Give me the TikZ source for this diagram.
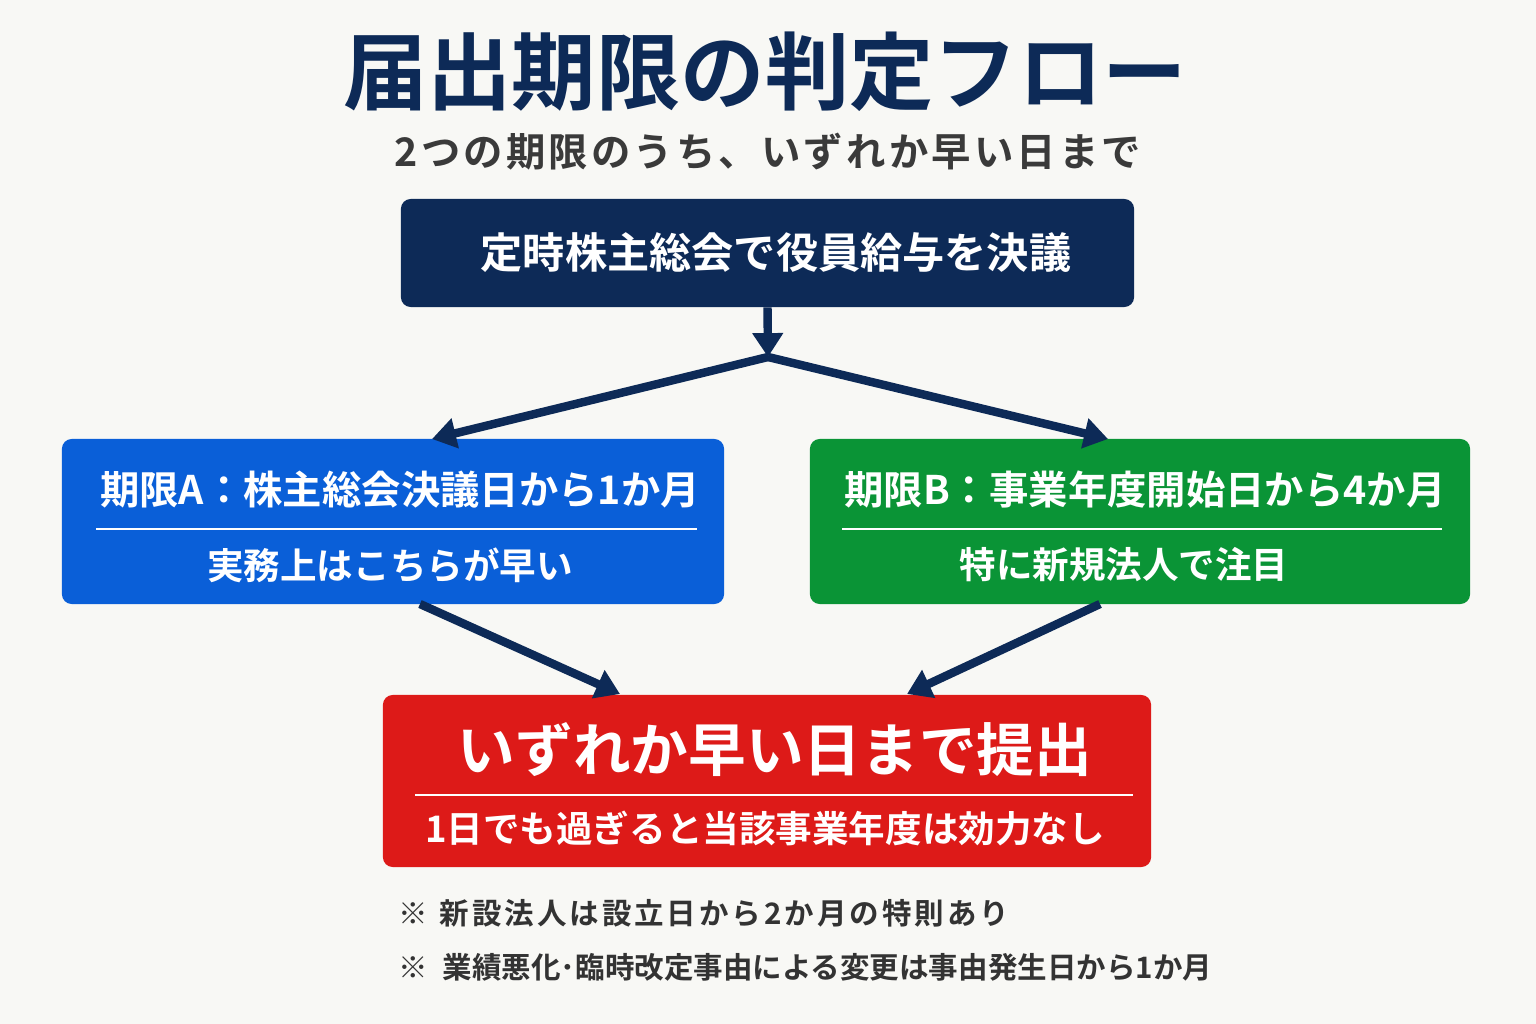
\documentclass[tikz,border=0pt]{standalone}
\usepackage{fontspec}
\setmainfont{Noto Sans CJK JP}[BoldFont={Noto Sans CJK JP Bold}]
\usetikzlibrary{arrows.meta}
\definecolor{bg}{HTML}{F8F8F5}
\definecolor{navy}{HTML}{0D2A57}
\definecolor{bluebox}{HTML}{0A5FD8}
\definecolor{greenbox}{HTML}{0A9436}
\definecolor{redbox}{HTML}{DD1A18}
\definecolor{subgray}{HTML}{3A3A3A}
\definecolor{notegray}{HTML}{333333}
\begin{document}
\begin{tikzpicture}[x=0.025cm,y=-0.025cm,
  txt/.style={font=\fontsize{#1pt}{#1pt}\selectfont\bfseries, inner sep=0pt},
  box/.style={rectangle, rounded corners=7pt, inner sep=0pt},
  divider/.style={white, line width=1.8pt},
  arr/.style={draw=navy, line width=6pt, -{Triangle[length=17pt,width=21pt]}},
  lnk/.style={draw=navy, line width=6pt}]
\fill[bg] (0,0) rectangle (1536,1024);
% title
\node[txt=60, text=navy] (title) at (765,72) {届出期限の判定フロー};
\node[txt=28, text=subgray] (subtitle) at (768,152) {\addfontfeature{LetterSpace=8}2つの期限のうち、いずれか早い日まで};
% boxes
\node[box, fill=navy, minimum width=18.325cm, minimum height=2.7cm] (top) at (767.5,253) {};
\node[txt=30, text=white] (toptxt) at (776,253) {定時株主総会で役員給与を決議};
\node[box, fill=bluebox, minimum width=16.55cm, minimum height=4.125cm] (blue) at (393,521.5) {};
\node[txt=28, text=white] (bluet) at (400,490) {期限A：株主総会決議日から1か月};
\draw[divider] (96,529) -- (697,529);
\node[txt=26, text=white] (blues) at (390,565) {実務上はこちらが早い};
\node[box, fill=greenbox, minimum width=16.5cm, minimum height=4.125cm] (green) at (1140,521.5) {};
\node[txt=28, text=white] (greent) at (1145,490) {期限B：事業年度開始日から4か月};
\draw[divider] (842,529) -- (1442,529);
\node[txt=26, text=white] (greens) at (1124,565) {特に新規法人で注目};
\node[box, fill=redbox, minimum width=19.2cm, minimum height=4.3cm] (red) at (767,781) {};
\node[txt=41, text=white] (redt) at (775,750) {いずれか早い日まで提出};
\draw[divider] (415,795) -- (1133,795);
\node[txt=26, text=white] (reds) at (765,828) {1日でも過ぎると当該事業年度は効力なし};
% connectors
\coordinate (j) at (768,357);
\coordinate (ta) at (432,439);
\coordinate (tb) at (1108,439);
\coordinate (fa) at (420,604);
\coordinate (fb) at (1100,604);
\coordinate (ra) at (620,694);
\coordinate (rb) at (907,694);
\draw[arr] (top.south) -- (j);
\draw[lnk] (j) -- ++(-2,0);
\draw[arr] (j) -- (ta);
\draw[arr] (j) -- (tb);
\draw[arr] (fa) -- (ra);
\draw[arr] (fb) -- (rb);
% notes
\node[txt=21, text=notegray, anchor=west] (n1) at (398,913) {\addfontfeature{LetterSpace=10}※\hspace{0.4em}新設法人は設立日から2か月の特則あり};
\node[txt=21, text=notegray, anchor=west] (n2) at (398,967) {※\hspace{0.5em}業績悪化･臨時改定事由による変更は事由発生日から1か月};
\end{tikzpicture}
\end{document}
